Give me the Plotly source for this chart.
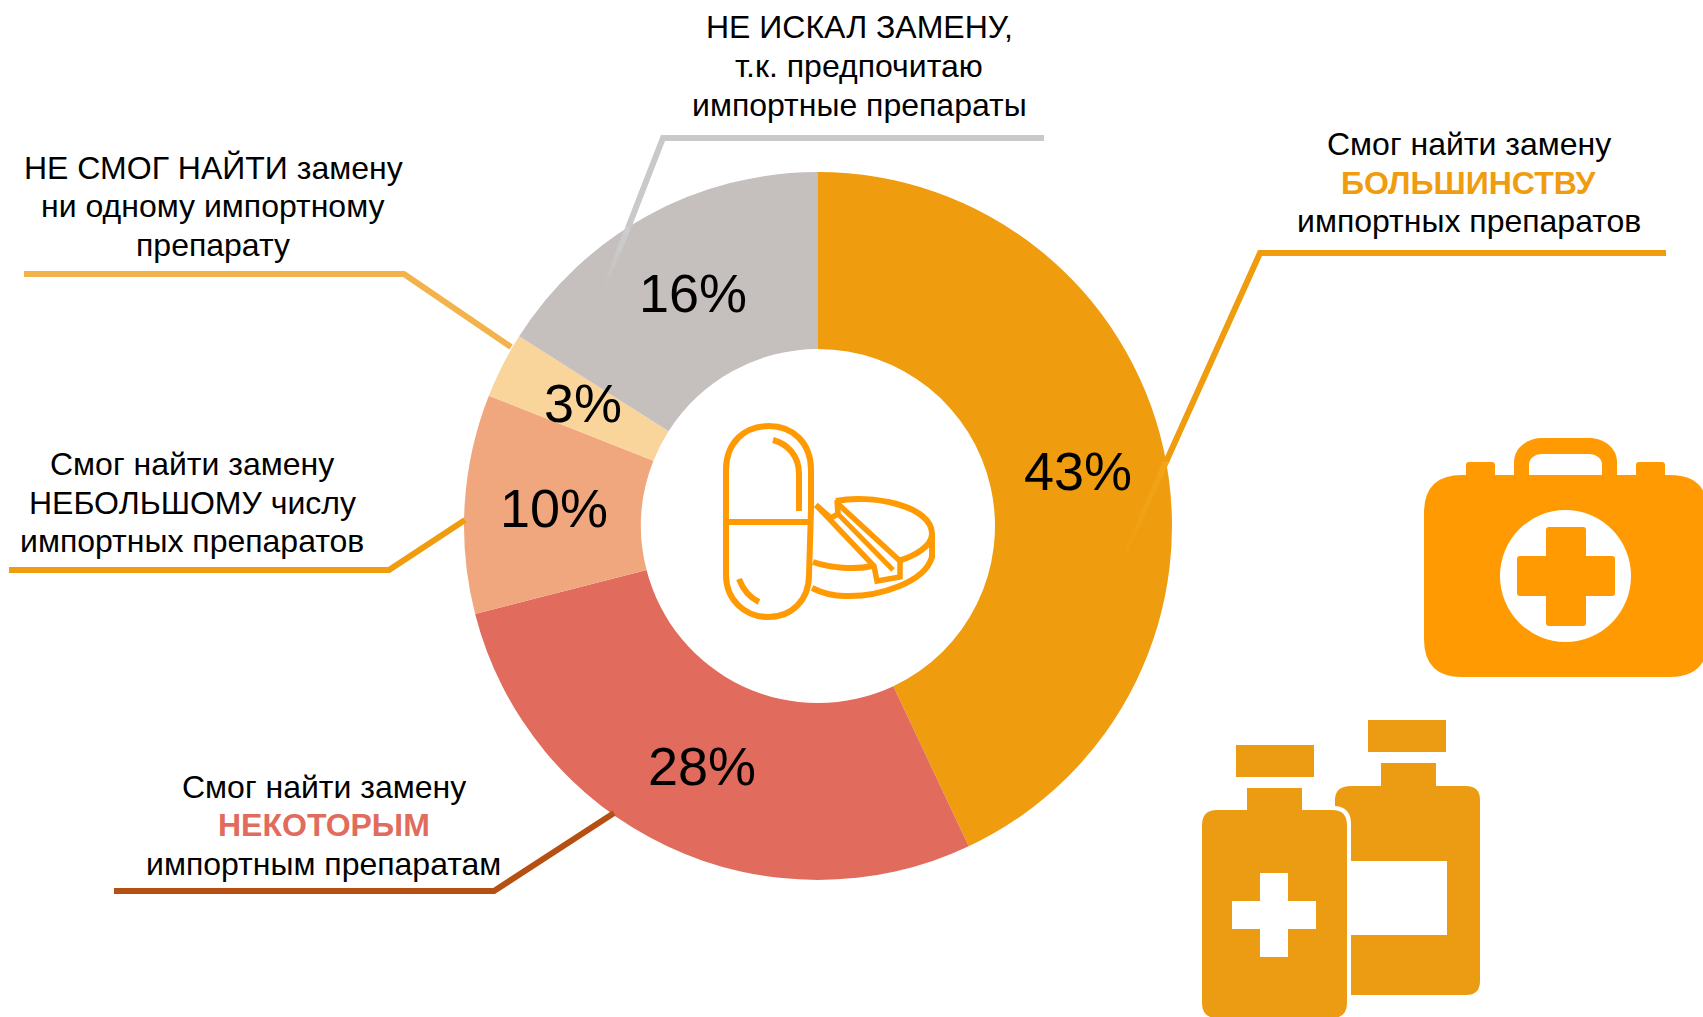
import math
import plotly.graph_objects as go

# Survey shares, clockwise from twelve o'clock
categories = ["Большинству", "Некоторым", "Небольшому числу", "Ни одному", "Не искал замену"]
shares = [43, 28, 10, 3, 16]
slice_colors = ["#EF9C0F", "#E16C5D", "#F1A77E", "#F9D59B", "#C5BFBE"]
# Small hand adjustments of the percent labels, in pixels
label_nudges = [(1, 3), (-3, 0), (1, -1), (2, -2), (3, 0)]

W, H = 1703, 1017
CX, CY, R = 818, 526, 354
HOLE = 0.5
FONT = "Liberation Sans, Arial, sans-serif"
BAG = "#FF9A02"
BOTTLE = "#EC9C12"

# Callout text: (centre x, centre y, text, colour, bold)
callout_lines = [
    (859, 27, "НЕ ИСКАЛ ЗАМЕНУ,", "#000000", False),
    (859, 66, "т.к. предпочитаю", "#000000", False),
    (859, 105, "импортные препараты", "#000000", False),
    (1469, 144, "Смог найти замену", "#000000", False),
    (1469, 183, "БОЛЬШИНСТВУ", "#EF9C0F", True),
    (1469, 221, "импортных препаратов", "#000000", False),
    (213, 168, "НЕ СМОГ НАЙТИ замену", "#000000", False),
    (213, 206, "ни одному импортному", "#000000", False),
    (213, 245, "препарату", "#000000", False),
    (192, 464, "Смог найти замену", "#000000", False),
    (192, 503, "НЕБОЛЬШОМУ числу", "#000000", False),
    (192, 541, "импортных препаратов", "#000000", False),
    (324, 787, "Смог найти замену", "#000000", False),
    (324, 825, "НЕКОТОРЫМ", "#E16C5D", True),
    (323, 864, "импортным препаратам", "#000000", False),
]

# Leader lines: colour, then the polyline vertices
leaders = [
    ("#C9C9C9", [(1044, 138), (663, 138), (628, 228)]),
    ("#EF9C0F", [(1666, 253), (1260, 253), (1166, 462)]),
    ("#F4B24A", [(24, 274), (404, 274), (511, 347)]),
    ("#EF9C0F", [(9, 570), (389, 570), (465, 520)]),
    ("#B54F12", [(114, 891), (494, 891), (614, 813)]),
]
# Continuations of two leaders that fade out across their slices
faded_leaders = [
    ("#CDCDCD", (628, 228), (603, 290)),
    ("#F2A519", (1166, 462), (1113, 581)),
]


def poly(points):
    return "M" + " L".join(f"{x},{y}" for x, y in points)


def rounded_rect(x0, y0, x1, y1, r):
    return (f"M{x0 + r},{y0} L{x1 - r},{y0} Q{x1},{y0} {x1},{y0 + r} L{x1},{y1 - r} "
            f"Q{x1},{y1} {x1 - r},{y1} L{x0 + r},{y1} Q{x0},{y1} {x0},{y1 - r} "
            f"L{x0},{y0 + r} Q{x0},{y0} {x0 + r},{y0} Z")


def filled(path, color):
    return dict(type="path", path=path, fillcolor=color, line=dict(width=0), xref="x", yref="y")


def stroked(path, color, width, opacity=1):
    return dict(type="path", path=path, line=dict(color=color, width=width), opacity=opacity,
                xref="x", yref="y")


def slice_label_position(index):
    """Middle of a ring slice, in page pixels."""
    before = sum(shares[:index]) + shares[index] / 2
    angle = 2 * math.pi * before / sum(shares)
    radius = R * (1 + HOLE) / 2
    return CX + radius * math.sin(angle), CY - radius * math.cos(angle)


shapes = []

for color, pts in leaders:
    shapes.append(stroked(poly(pts), color, 6))

# Each faded stretch is split into pieces of falling opacity
FADE_STEPS = 8
for color, a, b in faded_leaders:
    for step in range(FADE_STEPS):
        t0, t1 = step / FADE_STEPS, (step + 1) / FADE_STEPS
        p0 = (a[0] + (b[0] - a[0]) * t0, a[1] + (b[1] - a[1]) * t0)
        p1 = (a[0] + (b[0] - a[0]) * t1, a[1] + (b[1] - a[1]) * t1)
        shapes.append(stroked(poly([p0, p1]), color, 6 - 3 * t0, opacity=1 - t0))

# Capsule and tablet icon in the middle of the ring
ICON = "#FF9A02"
shapes += [
    stroked("M726,470 C726,442 745,426 769,426 C792,426 811,442 811,470 L811,510 L809,575 "
            "C809,600 792,617 768,617 C745,617 726,600 726,575 Z", ICON, 6),
    stroked("M726,522 L810,522", ICON, 6),
    stroked("M773,440 C788,444 799,456 799,474 L799,511", ICON, 6),
    stroked("M739,579 C743,590 749,597 759,602", ICON, 6),
    # tablet top face and rim
    stroked("M836,501 C870,494 932,505 932,534 C932,546 915,556 898,561", ICON, 6),
    stroked("M813,562 C830,568 855,570 872,566", ICON, 6),
    stroked("M932,534 L932,557 C925,582 880,597 845,596 C830,596 820,592 812,588", ICON, 6),
    # score groove across the tablet
    stroked("M816,505 L874,566 L877,581 L900,577 L900,561 L837,503", ICON, 5.5),
    stroked("M837,500 L838,514 L831,518 L816,505", ICON, 5.5),
    stroked("M838,514 L893,570", ICON, 5),
]

# First-aid bag
shapes += [
    filled(rounded_rect(1466, 462, 1495, 490, 3), BAG),
    filled(rounded_rect(1636, 462, 1665, 490, 3), BAG),
    filled("M1514,480 L1514,462 C1514,448 1527,438 1542,438 L1589,438 C1604,438 1617,448 1617,462 L1617,480 Z", BAG),
    filled("M1529,476 L1529,465 C1529,458 1535,454 1542,454 L1589,454 C1596,454 1602,458 1602,465 L1602,476 Z", "#FFFFFF"),
    filled(rounded_rect(1424, 475, 1708, 677, 38), BAG),
    dict(type="circle", x0=1500, x1=1631, y0=510, y1=642, fillcolor="#FFFFFF", line=dict(width=0), xref="x", yref="y"),
    filled(rounded_rect(1546, 527, 1586, 626, 3), BAG),
    filled(rounded_rect(1517, 556, 1615, 596, 3), BAG),
]

# Medicine bottles
shapes += [
    filled("M1381,786 L1381,763 L1436,763 L1436,786 L1466,786 Q1480,786 1480,800 L1480,981 Q1480,995 1466,995 "
           "L1351,995 L1351,824 Q1351,807 1335,806 L1335,800 Q1335,786 1351,786 Z", BOTTLE),
    filled(poly([(1368, 720), (1446, 720), (1446, 752), (1368, 752)]) + " Z", BOTTLE),
    filled(poly([(1351, 861), (1447, 861), (1447, 935), (1351, 935)]) + " Z", "#FFFFFF"),
    filled("M1247,810 L1247,788 L1302,788 L1302,810 L1332,810 Q1347,810 1347,825 L1347,1003 Q1347,1018 1332,1018 "
           "L1217,1018 Q1202,1018 1202,1003 L1202,825 Q1202,810 1217,810 Z", BOTTLE),
    filled(poly([(1236, 745), (1314, 745), (1314, 777), (1236, 777)]) + " Z", BOTTLE),
    filled(poly([(1260, 873), (1288, 873), (1288, 901), (1316, 901), (1316, 929), (1288, 929), (1288, 957),
                 (1260, 957), (1260, 929), (1232, 929), (1232, 901), (1260, 901)]) + " Z", "#FFFFFF"),
]

annotations = [
    dict(x=x, y=y, xref="x", yref="y", text=f"<b>{t}</b>" if bold else t, showarrow=False,
         xanchor="center", yanchor="middle", font=dict(family=FONT, size=32, color=color))
    for x, y, t, color, bold in callout_lines
]

# Percent labels sit at mid-radius of each slice, even where a slice is too thin to hold them
for i, value in enumerate(shares):
    lx, ly = slice_label_position(i)
    dx, dy = label_nudges[i]
    annotations.append(dict(x=lx + dx, y=ly + dy, xref="x", yref="y", text=f"{value}%", showarrow=False,
                            xanchor="center", yanchor="middle",
                            font=dict(family=FONT, size=54, color="#000000")))

fig = go.Figure(
    go.Pie(
        labels=categories,
        values=shares,
        sort=False,
        direction="clockwise",
        rotation=0,
        hole=HOLE,
        marker=dict(colors=slice_colors, line=dict(width=0)),
        textinfo="none",
        domain=dict(x=[(CX - R) / W, (CX + R) / W], y=[1 - (CY + R) / H, 1 - (CY - R) / H]),
        hoverinfo="label+percent",
        showlegend=False,
    )
)
fig.update_layout(
    width=W,
    height=H,
    margin=dict(l=0, r=0, t=0, b=0),
    paper_bgcolor="#FFFFFF",
    plot_bgcolor="#FFFFFF",
    xaxis=dict(range=[0, W], visible=False, fixedrange=True, domain=[0, 1]),
    yaxis=dict(range=[H, 0], visible=False, fixedrange=True, domain=[0, 1]),
    shapes=shapes,
    annotations=annotations,
)
fig.write_html("out.html", config={"displayModeBar": False})
